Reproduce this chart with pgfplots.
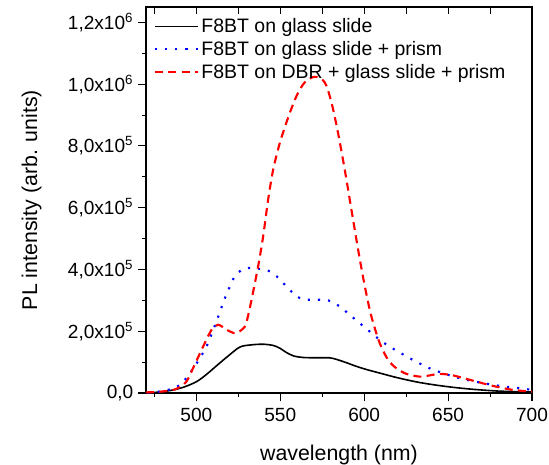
\documentclass[border=0pt]{standalone}
\usepackage{fontspec}
\setmainfont{Liberation Sans}
\usepackage{pgfplots}
\pgfplotsset{compat=1.18}

\begin{document}
\begin{tikzpicture}
\begin{axis}[
  width=289.5pt, height=289.5pt, scale only axis,
  xmin=470, xmax=700, ymin=0, ymax=1.25e6,
  xtick={500,550,600,650,700},
  minor xtick={475,525,575,625,675},
  ytick={0,2e5,4e5,6e5,8e5,1e6,1.2e6},
  minor ytick={1e5,3e5,5e5,7e5,9e5,1.1e6},
  yticklabels={{0,0},{2,0x10\textsuperscript{5}},{4,0x10\textsuperscript{5}},{6,0x10\textsuperscript{5}},{8,0x10\textsuperscript{5}},{1,0x10\textsuperscript{6}},{1,2x10\textsuperscript{6}}},
  xtick pos=bottom, ytick pos=left,
  tick align=outside,
  major tick length=6pt, minor tick length=3pt,
  every tick/.style={black, line width=0.8pt},
  axis line style={line width=0.9pt},
  tick label style={font=\fontsize{14.3}{16}\selectfont},
  xticklabel style={yshift=-1.5pt},
  label style={font=\fontsize{16}{19}\selectfont},
  xlabel={wavelength (nm)}, ylabel={PL intensity (arb. units)},
  xlabel shift=11pt, ylabel shift=13pt,
  scaled y ticks=false,
  /pgf/number format/assume math mode=true,
  legend style={draw=none, fill=none, at={(0.02,0.978)}, anchor=north west,
    font=\fontsize{14.6}{17}\selectfont, inner sep=0pt, row sep=1pt},
  legend cell align=left,
  legend image code/.code={\draw[#1] (0pt,0pt) -- (32pt,0pt);},
]
\addplot[black, line width=1.2pt, smooth] coordinates {
(470.4,1000) (478,3000) (486.3,10000) (493,20000) (500.2,37000) (506,60000) (512,88000)
(519,120000) (526,149000) (533,156000) (539.8,158000) (545.8,154000) (549.8,145000)
(553.7,131000) (558,120000) (563.6,115000) (572,114000) (579.5,114000) (584,108000)
(589.5,98000) (595,87000) (601.4,76000) (609,65000) (617.2,53000) (625,43000)
(633,34000) (641,27000) (649,21000) (657,16000) (664.8,12000) (672,9000) (680.7,6000)
(690,4500) (698.6,3500) (700,3000)
};
\addlegendentry{F8BT on glass slide}
\addplot[blue, line width=1.6pt, dash pattern=on 1.6pt off 6pt, smooth] coordinates {
(471,1000) (480,6000) (486,15000) (490.2,26000) (494,48000) (498.2,80000) (502,112000)
(506,150000) (509,190000) (512,232000) (517,307000) (520,345000) (523,378000) (528,402000)
(533.9,405000) (537.5,402000) (541.8,399000) (547.8,378000) (553.7,345000) (559.7,313000)
(564.5,303000) (569.6,302000) (578.5,300000) (585.5,280000) (591.4,253000) (597.4,226000)
(603.3,199000) (609.3,172000) (615.2,150000) (621,132000) (627,113000) (633,96000)
(639,80000) (647,64000) (656.9,48000) (668.8,34000) (680.7,23000) (694.6,14000) (700,10000)
};
\addlegendentry{F8BT on glass slide + prism}
\addplot[red, line width=1.6pt, dash pattern=on 6pt off 4pt, smooth] coordinates {
(470,2000) (478,4000) (486.3,10000) (492.2,26000) (495,45000) (498,80000) (501,115000)
(504,150000) (509.1,205000) (513,221000) (518,205000) (521,197000) (524,194000)
(528.9,215000) (530.8,250000) (532.9,302000) (536.8,410000) (539.8,507000) (542.8,627000)
(545.8,724000) (549.8,811000) (554.7,892000) (559.7,962000) (564.6,1006000) (570.6,1024000)
(576.5,1006000) (580.5,941000) (584.4,843000) (588.4,724000) (592.4,594000) (596.4,464000)
(600.4,345000) (604.3,248000) (609.3,161000) (614.3,107000) (619.2,80000) (625.2,62000)
(633,53000) (639,57000) (645,62000) (652.9,57000) (664.8,40000) (676.7,23000)
(688.7,10000) (698.6,5000) (700,4000)
};
\addlegendentry{F8BT on DBR + glass slide + prism}
\end{axis}
\begin{axis}[
  width=289.5pt, height=289.5pt, scale only axis,
  xmin=470, xmax=700, ymin=0, ymax=1.25e6,
  axis x line*=top, axis y line=none,
  xtick={500,550,600,650,700},
  minor xtick={475,525,575,625,675},
  xticklabels={}, tick align=inside,
  major tick length=5pt, minor tick length=5pt,
  every tick/.style={black, line width=0.8pt},
  axis line style={line width=0.9pt},
]
\end{axis}
\pgfresetboundingbox
\useasboundingbox ([xshift=-109.5pt,yshift=-53.25pt]current axis.south west) rectangle ([xshift=12.75pt,yshift=5.25pt]current axis.north east);
\end{tikzpicture}
\end{document}
